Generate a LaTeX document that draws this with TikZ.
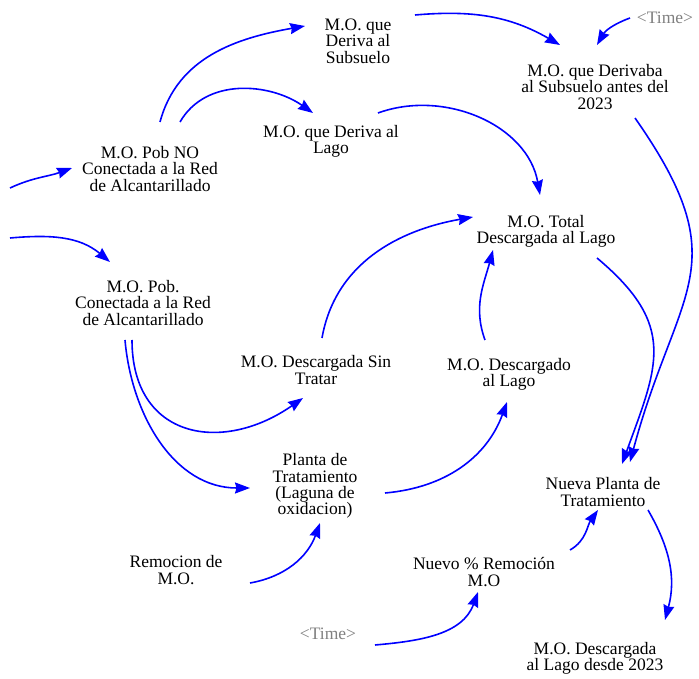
\documentclass[tikz,border=0pt]{standalone}
\usepackage{fontspec}
\setmainfont{Liberation Serif}
\usetikzlibrary{calc, arrows.meta}
\tikzset{>={Stealth[length=15pt,width=11pt,inset=1.5pt]}}
\tikzset{var/.style = {align = center, inner sep = 0pt, font = \fontsize{17.5}{16.3}\selectfont},
  shadowvar/.style = {var, text = black!50},
  link/.style = {->, blue, line width = 1.6pt}}

\begin{document}
\begin{tikzpicture}[x = 1pt, y = 1pt]
\useasboundingbox (0,0) rectangle (699,678);

\node (sub) [var] at (358,637) {M.O. que\\Deriva al\\Subsuelo};
\node (sub_ant) [var] at (595,591) {M.O. que Derivaba\\al Subsuelo antes del\\2023};
\node (time_a) [shadowvar] at (665,660) {<Time>};
\node (pob_no) [var] at (150,509) {M.O. Pob NO\\Conectada a la Red\\de Alcantarillado};
\node (lago) [var] at (331,537) {M.O. que Deriva al\\Lago};
\node (total) [var] at (546,447) {M.O. Total\\Descargada al Lago};
\node (pob_c) [var] at (143,375) {M.O. Pob.\\Conectada a la Red\\de Alcantarillado};
\node (sin_tratar) [var] at (316,308) {M.O. Descargada Sin\\Tratar};
\node (descargado) [var] at (509,304) {M.O. Descargado\\al Lago};
\node (planta) [var] at (315,192) {Planta de\\Tratamiento\\(Laguna de\\oxidacion)};
\node (nueva) [var] at (603,186) {Nueva Planta de\\Tratamiento};
\node (remocion) [var] at (176,108) {Remocion de\\M.O.};
\node (nuevo) [var] at (484,106) {Nuevo \% Remoción\\M.O};
\node (time_b) [shadowvar] at (328,44) {<Time>};
\node (desde) [var] at (595,20) {M.O. Descargada\\al Lago desde 2023};

% inflows from outside the view
\coordinate (in_no) at (10,490);
\coordinate (in_c) at (10,440);

\draw[link] (in_no) to [out = 25, in = 200] ($(pob_no)+(-78,1)$);
\draw[link] (in_c) to [out = 5, in = 140] ($(pob_c)+(-33,41)$);

\draw[link] ($(pob_no)+(10,47)$) to [out = 75, in = 190] ($(sub)+(-53,15)$);
\draw[link] ($(pob_no)+(30,47)$) to [out = 60, in = 145] ($(lago)+(-18,28)$);
\draw[link] ($(sub)+(57,26)$) to [out = 5, in = 150] ($(sub_ant)+(-35,42)$);
\draw[link] ($(time_a)+(-35,0)$) to [out = 200, in = 60] ($(sub_ant)+(2,42)$);
\draw[link] ($(lago)+(47,28)$) to [out = 20, in = 100] ($(total)+(-6,36)$);

\draw[link] ($(pob_c)+(-11,-37)$) to [out = -90, in = 215, looseness = 1.4] ($(sin_tratar)+(-13,-28)$);
\draw[link] ($(pob_c)+(-18,-37)$) to [out = -85, in = 180] ($(planta)+(-65,-2)$);
\draw[link] ($(sin_tratar)+(6,32)$) to [out = 80, in = 190] ($(total)+(-73,14)$);
\draw[link] ($(descargado)+(-24,34)$) to [out = 110, in = -105] ($(total)+(-53,-19)$);
\draw[link] ($(planta)+(70,-7)$) to [out = 5, in = -110] ($(descargado)+(-2,-28)$);

\draw[link] ($(total)+(51,-27)$) to [out = -40, in = 70, looseness = 1.3] ($(nueva)+(19,28)$);
\draw[link] ($(sub_ant)+(40,-31)$) to [out = -55, in = 75, looseness = 1.35] ($(nueva)+(27,30)$);

\draw[link] ($(remocion)+(74,-13)$) to [out = 10, in = -110] ($(planta)+(5,-37)$);
\draw[link] ($(time_b)+(47,-11)$) to [out = 5, in = -110] ($(nuevo)+(-6,-20)$);
\draw[link] ($(nuevo)+(86,22)$) to [out = 30, in = -125] ($(nueva)+(-5,-18)$);
\draw[link] ($(nueva)+(45,-18)$) to [out = -60, in = 75] ($(desde)+(70,38)$);

\end{tikzpicture}
\end{document}
